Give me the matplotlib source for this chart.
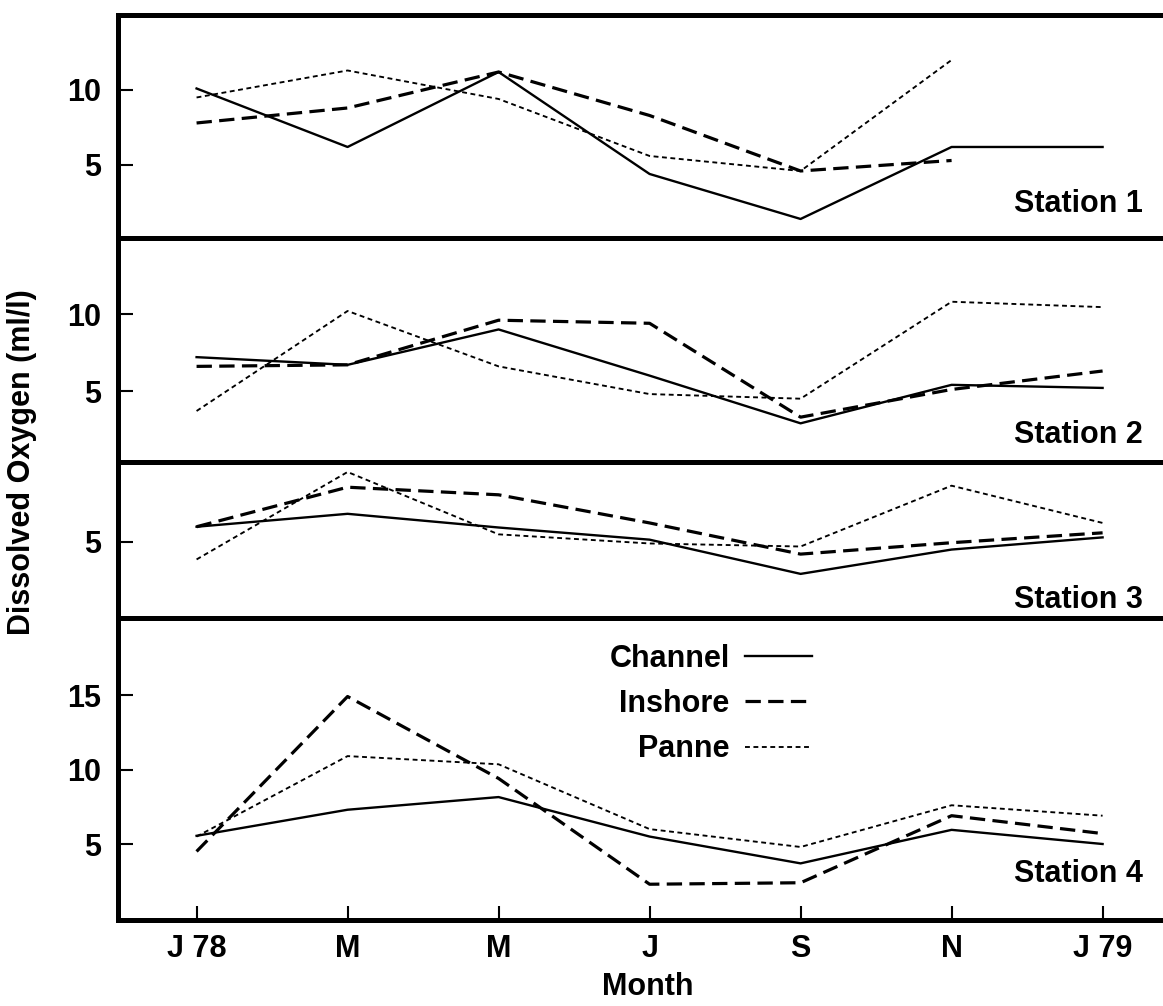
"""
Dissolved oxygen at four stations, Jan 1978 - Jan 1979
Channel / Inshore / Panne, one panel per station
"""

import matplotlib
matplotlib.use('Agg')
import matplotlib.pyplot as plt
from matplotlib.lines import Line2D

plt.rcParams['font.family'] = ['Liberation Sans', 'DejaVu Sans']
plt.rcParams['font.weight'] = 'bold'

# ============================================================================
# DATA (ml/l)
# ============================================================================

meses = ['J 78', 'M', 'M', 'J', 'S', 'N', 'J 79']

channel_1 = [10.1, 6.2, 11.2, 4.4, 1.4, 6.2, 6.2]
inshore_1 = [7.8, 8.8, 11.2, 8.3, 4.6, 5.3, None]
panne_1 = [9.5, 11.3, 9.4, 5.6, 4.6, 12.0, None]

channel_2 = [7.2, 6.7, 9.0, 6.0, 2.9, 5.4, 5.2]
inshore_2 = [6.6, 6.7, 9.6, 9.4, 3.3, 5.1, 6.3]
panne_2 = [3.7, 10.2, 6.6, 4.8, 4.5, 10.8, 10.45]

channel_3 = [6.0, 6.85, 5.95, 5.15, 2.9, 4.5, 5.3]
inshore_3 = [6.0, 8.6, 8.1, 6.25, 4.2, 4.95, 5.6]
panne_3 = [3.85, 9.6, 5.5, 4.9, 4.7, 8.7, 6.25]

channel_4 = [5.55, 7.3, 8.15, 5.5, 3.7, 5.95, 5.0]
inshore_4 = [4.5, 14.9, 9.4, 2.3, 2.4, 6.9, 5.7]
panne_4 = [5.5, 10.9, 10.35, 6.0, 4.8, 7.6, 6.9]

estaciones = ['Station 1', 'Station 2', 'Station 3', 'Station 4']
ticks_y = [[5, 10], [5, 10], [5], [5, 10, 15]]

# ============================================================================
# LAYOUT
# ============================================================================

# (bottom, top) of each panel in figure fraction, and y limits
paneles = [(0.7634, 0.9851), (0.5408, 0.7634), (0.3857, 0.5408), (0.0855, 0.3857)]
limites = [(0.13, 15.0), (0.39, 14.94), (0.0, 10.26), (-0.1, 20.17)]
texto_y = [0.117, 0.085, 0.064, 0.126]

estilos = {
    'Channel': dict(color='black', lw=1.7, linestyle='-'),
    'Inshore': dict(color='black', lw=2.3, linestyle=(0, (4.8, 2.3))),
    'Panne': dict(color='black', lw=1.35, linestyle=(0, (2.6, 1.9))),
}

datos = [
    (channel_1, inshore_1, panne_1),
    (channel_2, inshore_2, panne_2),
    (channel_3, inshore_3, panne_3),
    (channel_4, inshore_4, panne_4),
]

FS = 22
SPINE = 3.6

fig = plt.figure(figsize=(11.63, 10.06), dpi=100)

x = list(range(len(meses)))
ejes = []
for i, (abajo, arriba) in enumerate(paneles):
    ax = fig.add_axes([0.1015, abajo, 1 - 0.1015, arriba - abajo])
    ejes.append(ax)
    for serie, nombre in zip(datos[i], ['Channel', 'Inshore', 'Panne']):
        xs = [xx for xx, v in zip(x, serie) if v is not None]
        ys = [v for v in serie if v is not None]
        ax.plot(xs, ys, label=nombre, **estilos[nombre])

    ax.set_xlim(-0.52, 6.4)
    ax.set_ylim(*limites[i])
    ax.set_yticks(ticks_y[i])
    ax.tick_params(axis='y', direction='in', length=11, width=1.5,
                   labelsize=FS, pad=12)

    ax.spines['right'].set_visible(False)
    ax.spines['left'].set_linewidth(SPINE)
    ax.spines['top'].set_linewidth(SPINE)
    if i < 3:
        ax.spines['bottom'].set_visible(False)
        ax.set_xticks([])
    else:
        ax.spines['bottom'].set_linewidth(SPINE)
        ax.set_xticks(x)
        ax.set_xticklabels(meses)
        ax.tick_params(axis='x', direction='in', length=10, width=1.5,
                       labelsize=FS, pad=10)

    ax.text(0.981, texto_y[i], estaciones[i], transform=ax.transAxes,
            ha='right', va='baseline', fontsize=FS, fontweight='bold')

# Legend: label first, line on the right
handles = [Line2D([], [], **estilos[n]) for n in ['Channel', 'Inshore', 'Panne']]
ejes[3].legend(handles, ['Channel', 'Inshore', 'Panne'], markerfirst=False,
               frameon=False, loc='upper right', bbox_to_anchor=(0.67, 0.935),
               fontsize=FS, handlelength=2.2, handletextpad=0.5,
               labelspacing=0.5, borderpad=0.2, borderaxespad=0)

fig.text(648 / 1163, 1 - 987 / 1006, 'Month', ha='center', va='center',
         fontsize=FS, fontweight='bold')
fig.text(22 / 1163, 1 - 462 / 1006, 'Dissolved Oxygen (ml/l)', ha='center',
         va='center', rotation=90, fontsize=FS, fontweight='bold')

fig.savefig('out.png', dpi=100, facecolor='white')
plt.close(fig)
